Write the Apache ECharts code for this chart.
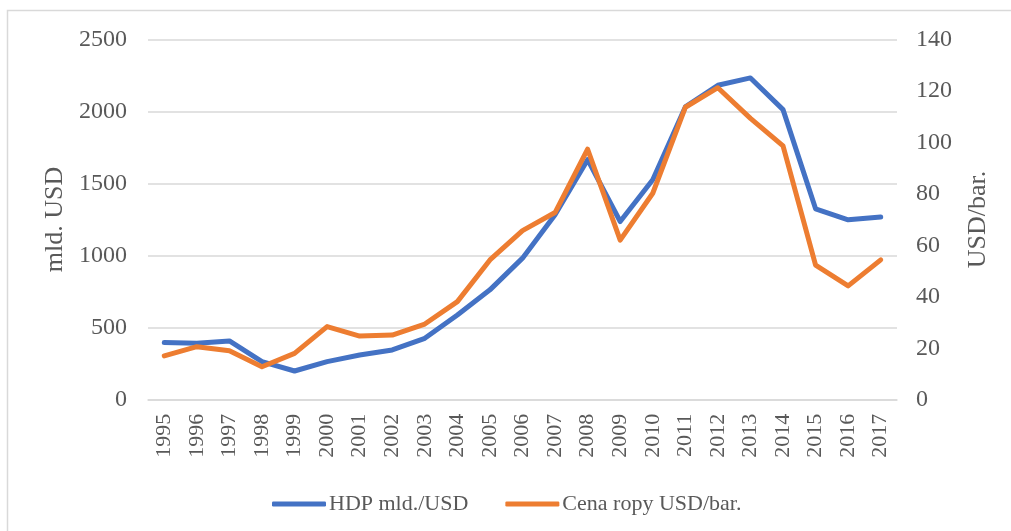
<!DOCTYPE html>
<html>
<head>
<meta charset="utf-8">
<script src="https://cdn.jsdelivr.net/npm/echarts@6/dist/echarts.min.js"></script>
<style>
  html, body { margin: 0; padding: 0; background: #ffffff; }
  #chart { width: 1011px; height: 531px; }
</style>
</head>
<body>
<div id="chart"></div>
<script>
// --- data ---
const years = ['1995', '1996', '1997', '1998', '1999', '2000', '2001', '2002', '2003', '2004', '2005',
    '2006', '2007', '2008', '2009', '2010', '2011', '2012', '2013', '2014', '2015', '2016', '2017'];

// HDP mld./USD (left axis)
const hdp = [396, 392, 408, 264, 199, 264, 310, 345, 426, 588, 762,
    982, 1283, 1665, 1236, 1526, 2031, 2181, 2232, 2012, 1324, 1248, 1267];

// Cena ropy USD/bar. (right axis)
const oil = [17.0, 20.6, 19.0, 12.8, 18.0, 28.4, 24.7, 25.1, 29.4, 38.1, 54.3,
    65.7, 72.7, 97.3, 62.0, 80.2, 113.6, 121.2, 109.3, 98.6, 52.3, 44.2, 54.3];

const seriesNames = ['HDP mld./USD', 'Cena ropy USD/bar.'];
const leftAxisName = 'mld. USD';
const rightAxisName = 'USD/bar.';

const textColor = '#595959';
const gridColor = '#d9d9d9';
const blue = '#4472C4';
const orange = '#ED7D31';
const fontFamily = '"Liberation Serif", "Times New Roman", serif';

const chart = echarts.init(document.getElementById('chart'), null, { renderer: 'canvas' });

chart.setOption({
    backgroundColor: '#ffffff',
    animation: false,
    textStyle: { fontFamily: fontFamily, color: textColor },
    graphic: [{
        type: 'rect',
        shape: { x: 7.5, y: 10.5, width: 1010, height: 530 },
        style: { fill: 'none', stroke: gridColor, lineWidth: 1.5 },
        silent: true
    }],
    grid: { left: 148, right: 114, top: 39.3, bottom: 131.3 },
    legend: {
        left: 267,
        top: 488,
        icon: 'roundRect',
        itemWidth: 54,
        itemHeight: 5,
        itemGap: 37,
        textStyle: { fontFamily: fontFamily, fontSize: 22, color: textColor, padding: [0, 0, 0, -2] },
        data: seriesNames
    },
    xAxis: {
        type: 'category',
        data: years,
        boundaryGap: true,
        axisLine: { show: true, lineStyle: { color: gridColor, width: 1.5 } },
        axisTick: { show: false },
        axisLabel: { rotate: 90, fontSize: 22, color: textColor, fontFamily: fontFamily, margin: 14 },
        splitLine: { show: false }
    },
    yAxis: [{
        type: 'value',
        min: 0,
        max: 2500,
        interval: 500,
        name: leftAxisName,
        nameLocation: 'middle',
        nameGap: 75,
        nameTextStyle: { fontSize: 26, color: textColor, fontFamily: fontFamily },
        axisLine: { show: false },
        axisTick: { show: false },
        axisLabel: {
            fontSize: 24, color: textColor, fontFamily: fontFamily, margin: 21,
            formatter: (v) => String(v)
        },
        splitLine: { lineStyle: { color: gridColor, width: 1.5 } }
    }, {
        type: 'value',
        min: 0,
        max: 140,
        interval: 20,
        name: rightAxisName,
        nameLocation: 'middle',
        nameGap: 68,
        nameTextStyle: { fontSize: 26, color: textColor, fontFamily: fontFamily },
        axisLine: { show: false },
        axisTick: { show: false },
        axisLabel: {
            fontSize: 24, color: textColor, fontFamily: fontFamily, margin: 19,
            formatter: (v) => String(v)
        },
        splitLine: { show: false }
    }],
    series: [{
        name: seriesNames[0],
        type: 'line',
        yAxisIndex: 0,
        data: hdp,
        symbol: 'none',
        lineStyle: { width: 5, color: blue, cap: 'round', join: 'round' },
        itemStyle: { color: blue }
    }, {
        name: seriesNames[1],
        type: 'line',
        yAxisIndex: 1,
        data: oil,
        symbol: 'none',
        lineStyle: { width: 5, color: orange, cap: 'round', join: 'round' },
        itemStyle: { color: orange }
    }]
});
</script>
</body>
</html>
